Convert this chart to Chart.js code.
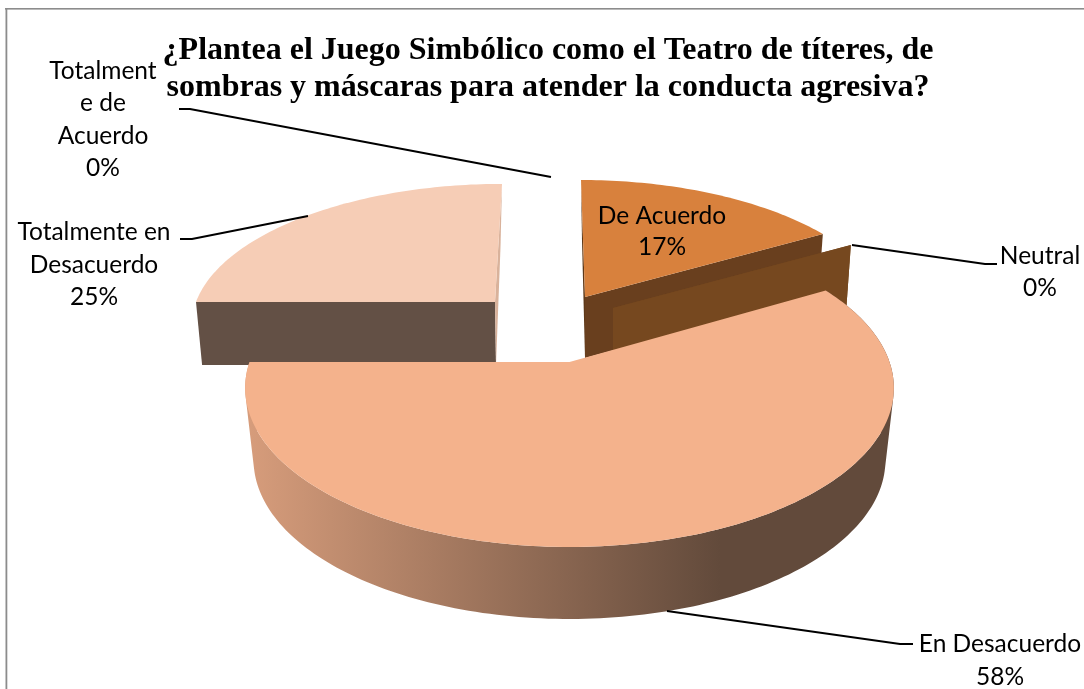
<!DOCTYPE html>
<html>
<head>
<meta charset="utf-8">
<title>Juego Simbólico</title>
<script src="https://cdn.jsdelivr.net/npm/chart.js@4/dist/chart.umd.min.js"></script>
<style>
  html, body { margin: 0; padding: 0; background: #fff; overflow: hidden; }
  #wrap { position: absolute; left: 0; top: 0; width: 1084px; height: 689px; }
</style>
</head>
<body>
<div id="wrap"><canvas id="pie"></canvas></div>
<script>
var categories = ["De Acuerdo", "Neutral", "En Desacuerdo", "Totalmente en Desacuerdo", "Totalmente de Acuerdo"];
var percents = [16.67, 0, 58.33, 25, 0];
var titleLines = ["¿Plantea el Juego Simbólico como el Teatro de títeres, de", "sombras y máscaras para atender la conducta agresiva?"];
var topColors = ["#D8813D", "#76481F", "#F4B28C", "#F6CDB6", "#F6CDB6"];

// how each slice sits in the fake 3d view, same order as categories
var views = [
  {ax: 585, ay: 297, B: 300, A: 136.5, k: .167, lean: -4, depth: 61, bScale: .98, bDx: 0, bLean: 1, startFace: "#5E3919", endFace: "#693F1E"},
  {ax: 613, ay: 308, B: 300, A: 136.5, k: .167, lean: -4, depth: 60, bScale: .98, bDx: 0, bLean: 1, startFace: "#76481F", endFace: "#76481F"},
  {ax: 569.5, ay: 362, B: 320, A: 154.75, k: .1635, lean: 0, depth: 72, bScale: .974, bDx: 0, bLean: 0, wall: true},
  {ax: 495, ay: 302, B: 299, A: 135, k: .143, lean: 7, depth: 63, bScale: .983, bDx: 1, bLean: -2.5, startFace: "#635045", endFace: "#D9B29B"},
  {ax: 549, ay: 290, B: 299, A: 135, k: .143, lean: 0, depth: 60, bScale: .98, bDx: 0, bLean: 0, startFace: "#F6CDB6", endFace: "#F6CDB6"}
];
var paintOrder = [4, 3, 0, 1, 2];

// callouts, same order as categories
var callouts = [
  {x: 662, ys: [216, 247], lines: ["De Acuerdo"], leader: null},
  {x: 1040, ys: [256, 288], lines: ["Neutral"], leader: [[852, 245], [985, 264], [997, 264]]},
  {x: 1000, ys: [644, 677], lines: ["En Desacuerdo"], leader: [[667, 611], [900, 644], [913, 644]]},
  {x: 94, ys: [232, 265, 297], lines: ["Totalmente en", "Desacuerdo"], leader: [[308, 216], [192, 239], [180, 239]]},
  {x: 103, ys: [71, 103, 136, 168], lines: ["Totalment", "e de", "Acuerdo"], leader: [[179, 109], [190, 109], [551, 177]]}
];

function project(view, a, r, bottom) {
  var u = Math.sin(a) * r, v = -Math.cos(a) * r;
  var s = 1 / (1 - view.k * v);
  var back = v < 0 ? -v : 0;
  var px = view.B * u * s + view.lean * back;
  var py = view.A * v * s;
  if (bottom) {
    px = view.B * view.bScale * u * s + view.bDx + (view.lean + view.bLean) * back;
    py += view.depth;
  }
  return [view.ax + px, view.ay + py];
}

function arcPoints(view, from, to, bottom) {
  var pts = [];
  var n = Math.max(1, Math.ceil(Math.abs(to - from) / 0.02));
  for (var i = 0; i <= n; i++) {
    pts.push(project(view, from + (to - from) * i / n, 1, bottom));
  }
  return pts;
}

function fillPoly(ctx, pts, fill) {
  ctx.beginPath();
  pts.forEach(function (p, i) {
    if (i == 0) ctx.moveTo(p[0], p[1]); else ctx.lineTo(p[0], p[1]);
  });
  ctx.closePath();
  ctx.fillStyle = fill;
  ctx.fill();
}

function radialFace(ctx, view, a, fill) {
  fillPoly(ctx, [
    project(view, a, 0, false), project(view, a, 1, false),
    project(view, a, 1, true), project(view, a, 0, true)
  ], fill);
}

// round side: one path of strips, all wound the same way so they merge without seams
function outerWall(ctx, view, a0, a1, fill) {
  var top = arcPoints(view, a0, a1, false), low = arcPoints(view, a0, a1, true);
  ctx.beginPath();
  for (var i = 0; i < top.length - 1; i++) {
    var q = [top[i], top[i + 1], low[i + 1], low[i]];
    var area = 0;
    for (var j = 0; j < 4; j++) {
      var n = q[(j + 1) % 4];
      area += q[j][0] * n[1] - n[0] * q[j][1];
    }
    if (area < 0) q.reverse();
    ctx.moveTo(q[0][0], q[0][1]);
    ctx.lineTo(q[1][0], q[1][1]);
    ctx.lineTo(q[2][0], q[2][1]);
    ctx.lineTo(q[3][0], q[3][1]);
    ctx.closePath();
  }
  ctx.fillStyle = fill;
  ctx.fill();
}

function drawLabels(chart) {
  var ctx = chart.ctx;
  ctx.save();
  ctx.strokeStyle = "#000";
  ctx.lineWidth = 2;
  ctx.fillStyle = "#000";
  ctx.font = "24.5px Lato";
  ctx.textAlign = "center";
  ctx.textBaseline = "middle";
  callouts.forEach(function (c, i) {
    if (c.leader) {
      ctx.beginPath();
      c.leader.forEach(function (p, k) {
        if (k == 0) ctx.moveTo(p[0], p[1]); else ctx.lineTo(p[0], p[1]);
      });
      ctx.stroke();
    }
    c.lines.concat([Math.round(percents[i]) + "%"]).forEach(function (t, k) {
      ctx.fillText(t, c.x, c.ys[k]);
    });
  });
  ctx.restore();
}

var pie3d = {
  id: "pie3d",
  beforeDatasetsDraw: function (chart) {
    var ctx = chart.ctx;
    ctx.save();
    // frame, only left and top edges show in the picture
    ctx.fillStyle = "#8C8C8C";
    ctx.fillRect(5, 8, chart.width, 1.6);
    ctx.fillRect(5.5, 8, 1.8, chart.height);

    var arcs = chart.getDatasetMeta(0).data;
    paintOrder.forEach(function (i) {
      var arc = arcs[i].getProps(["startAngle", "endAngle"], true);
      var view = views[i];
      var a0 = arc.startAngle + Math.PI / 2, a1 = arc.endAngle + Math.PI / 2;
      if (view.wall) {
        var grad = ctx.createLinearGradient(250, 0, 720, 0);
        grad.addColorStop(0, "#D69C7B");
        grad.addColorStop(1, "#624A3B");
        outerWall(ctx, view, a0, a1, grad);
      } else {
        radialFace(ctx, view, a0, view.startFace);
        radialFace(ctx, view, a1, view.endFace);
      }
      if (a1 > a0) {
        fillPoly(ctx, [project(view, a0, 0, false)].concat(arcPoints(view, a0, a1, false)), arcs[i].options.backgroundColor);
      }
    });
    ctx.restore();
    drawLabels(chart);
    return false;
  }
};

new Chart(document.getElementById("pie").getContext("2d"), {
  type: "pie",
  data: {
    labels: categories,
    datasets: [{ data: percents, backgroundColor: topColors, borderWidth: 0 }]
  },
  options: {
    responsive: true,
    maintainAspectRatio: false,
    animation: false,
    layout: { padding: { left: 12 } },
    plugins: {
      legend: { display: false },
      tooltip: { enabled: false },
      title: {
        display: true,
        text: titleLines,
        color: "#000",
        font: { family: "Liberation Serif", size: 32, weight: "bold", lineHeight: 1.16 },
        padding: { top: 32, bottom: 0 }
      }
    }
  },
  plugins: [pie3d]
});
</script>
</body>
</html>
